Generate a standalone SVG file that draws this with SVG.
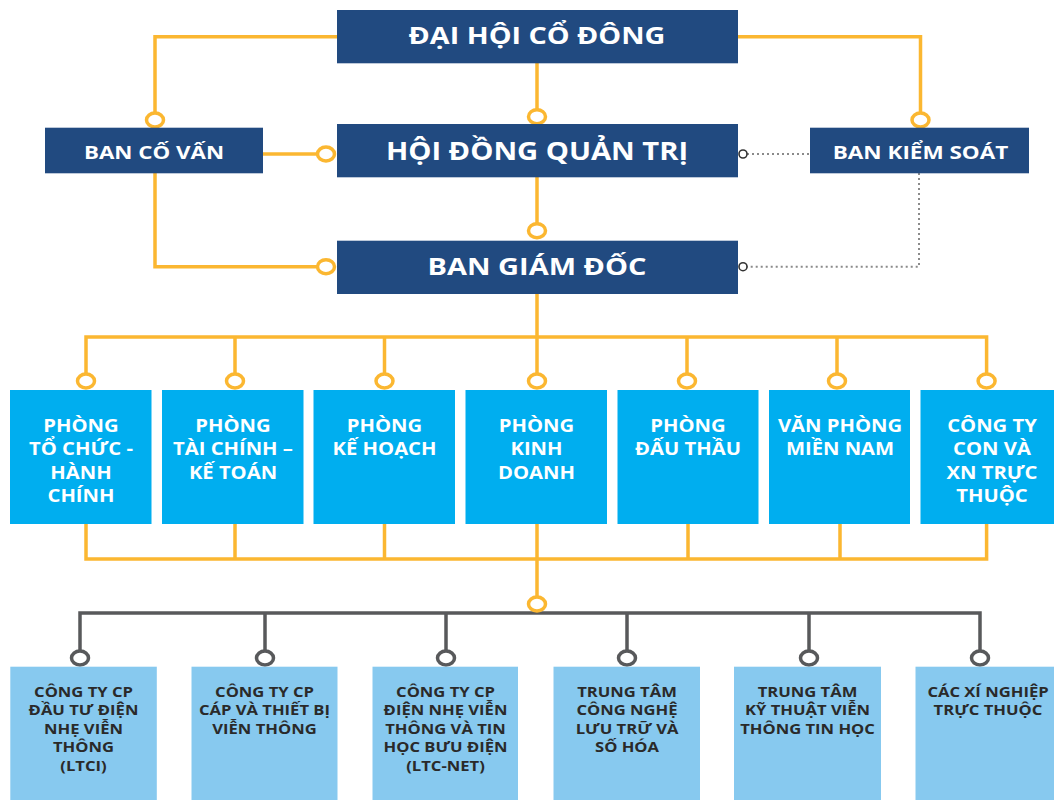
<svg xmlns="http://www.w3.org/2000/svg" width="1054" height="800" viewBox="0 0 1054 800">
<style>
.navy{fill:#214A80}
.mid{fill:#00AEEF}
.lite{fill:#87C9EF}
.t{font-family:"Open Sans","Liberation Sans",sans-serif;font-weight:bold;text-anchor:middle;fill:#fff}
.t1{font-size:23px}
.t2{font-size:18px}
.t3{font-size:17px}
.t4{font-size:13.5px;fill:#2a2a2a}
.or{fill:none;stroke:#FBB731;stroke-width:3.5}
.gr{fill:none;stroke:#58595B;stroke-width:3.5}
.dot{fill:none;stroke:#8a8a8a;stroke-width:2;stroke-dasharray:2 3}
.oc{fill:#fff;stroke:#FBB731;stroke-width:3.5}
.gc{fill:#fff;stroke:#58595B;stroke-width:3.5}
.sc{fill:#fff;stroke:#333;stroke-width:1.6}
</style>
<rect width="1054" height="800" fill="#fff"/>
<g id="connectors">
<path class="or" d="M337 36.7H155V113"/>
<path class="or" d="M537 63V110"/>
<path class="or" d="M738 36.7H920.5V113"/>
<path class="or" d="M263 154H318"/>
<path class="or" d="M155 173V266.7H318"/>
<path class="or" d="M537 177V224"/>
<path class="dot" d="M747 154H810"/>
<path class="dot" d="M919 173V266.7H747"/>
<path class="or" d="M537 294V337H86V374M235 337V374M384.5 337V374M537 337V374M687 337V374M837 337V374M537 337H986.6V374"/>
<path class="or" d="M86 524V559H986.6V524M235 524V559M384.5 524V559M537 524V597M688 524V559M840 524V559"/>
<path class="gr" d="M80 651V613H980V651M265 613V651M446 613V651M627 613V651M809 613V651"/>
<ellipse class="oc" cx="155" cy="120" rx="8.5" ry="7"/>
<ellipse class="oc" cx="537" cy="116.7" rx="8.5" ry="7"/>
<ellipse class="oc" cx="920.5" cy="120" rx="8.5" ry="7"/>
<ellipse class="oc" cx="326" cy="154" rx="8.5" ry="7"/>
<ellipse class="oc" cx="326" cy="266.7" rx="8.5" ry="7"/>
<ellipse class="oc" cx="537" cy="230.7" rx="8.5" ry="7"/>
<circle class="sc" cx="743" cy="154" r="4"/>
<circle class="sc" cx="743" cy="266.7" r="4"/>
<ellipse class="oc" cx="86" cy="381" rx="8.5" ry="7"/>
<ellipse class="oc" cx="235" cy="381" rx="8.5" ry="7"/>
<ellipse class="oc" cx="384.5" cy="381" rx="8.5" ry="7"/>
<ellipse class="oc" cx="537" cy="381" rx="8.5" ry="7"/>
<ellipse class="oc" cx="687" cy="381" rx="8.5" ry="7"/>
<ellipse class="oc" cx="837" cy="381" rx="8.5" ry="7"/>
<ellipse class="oc" cx="986.6" cy="381" rx="8.5" ry="7"/>
<ellipse class="oc" cx="537" cy="604" rx="8.5" ry="7"/>
<ellipse class="gc" cx="80" cy="658" rx="8.5" ry="7"/>
<ellipse class="gc" cx="265" cy="658" rx="8.5" ry="7"/>
<ellipse class="gc" cx="446" cy="658" rx="8.5" ry="7"/>
<ellipse class="gc" cx="627" cy="658" rx="8.5" ry="7"/>
<ellipse class="gc" cx="809" cy="658" rx="8.5" ry="7"/>
<ellipse class="gc" cx="980" cy="658" rx="8.5" ry="7"/>
</g>
<g id="dhcd"><rect class="navy" x="337" y="10" width="401" height="53.3"/><g transform="translate(537 0) scale(1.25 1)"><text class="t t1" x="0" y="44.3">ĐẠI HỘI CỔ ĐÔNG</text></g></g>
<g id="hdqt"><rect class="navy" x="337" y="124" width="401" height="53.3"/><g transform="translate(537 0) scale(1.2 1)"><text class="t t1" x="0" y="160" style="font-size:24.3px">HỘI ĐỒNG QUẢN TRỊ</text></g></g>
<g id="bgd"><rect class="navy" x="337" y="240.7" width="401" height="53.3"/><g transform="translate(537 0) scale(1.26 1)"><text class="t t1" x="0" y="275">BAN GIÁM ĐỐC</text></g></g>
<g id="bcv"><rect class="navy" x="45" y="127.7" width="218" height="45.6"/><g transform="translate(154 0) scale(1.24 1)"><text class="t t2" x="0" y="159">BAN CỐ VẤN</text></g></g>
<g id="bks"><rect class="navy" x="810" y="127.7" width="219" height="45.6"/><g transform="translate(920.5 0) scale(1.25 1)"><text class="t t2" x="0" y="159">BAN KIỂM SOÁT</text></g></g>
<g id="p1"><rect class="mid" x="10" y="390" width="141.5" height="134"/><g transform="translate(81 0) scale(1.19 1)"><text class="t t3" x="0" y="432"><tspan x="0">PHÒNG</tspan><tspan x="0" dy="23.5">TỔ CHỨC -</tspan><tspan x="0" dy="23.5">HÀNH</tspan><tspan x="0" dy="23.5">CHÍNH</tspan></text></g></g>
<g id="p2"><rect class="mid" x="162" y="390" width="141.5" height="134"/><g transform="translate(233 0) scale(1.19 1)"><text class="t t3" x="0" y="432"><tspan x="0">PHÒNG</tspan><tspan x="0" dy="23.5">TÀI CHÍNH –</tspan><tspan x="0" dy="23.5">KẾ TOÁN</tspan></text></g></g>
<g id="p3"><rect class="mid" x="313.5" y="390" width="141.5" height="134"/><g transform="translate(384.5 0) scale(1.19 1)"><text class="t t3" x="0" y="432"><tspan x="0">PHÒNG</tspan><tspan x="0" dy="23.5">KẾ HOẠCH</tspan></text></g></g>
<g id="p4"><rect class="mid" x="465.5" y="390" width="141.5" height="134"/><g transform="translate(536.5 0) scale(1.19 1)"><text class="t t3" x="0" y="432"><tspan x="0">PHÒNG</tspan><tspan x="0" dy="23.5">KINH</tspan><tspan x="0" dy="23.5">DOANH</tspan></text></g></g>
<g id="p5"><rect class="mid" x="617.5" y="390" width="141" height="134"/><g transform="translate(688 0) scale(1.19 1)"><text class="t t3" x="0" y="432"><tspan x="0">PHÒNG</tspan><tspan x="0" dy="23.5">ĐẤU THẦU</tspan></text></g></g>
<g id="p6"><rect class="mid" x="769" y="390" width="141" height="134"/><g transform="translate(840 0) scale(1.19 1)"><text class="t t3" x="0" y="432"><tspan x="0">VĂN PHÒNG</tspan><tspan x="0" dy="23.5">MIỀN NAM</tspan></text></g></g>
<g id="p7"><rect class="mid" x="920.5" y="390" width="141.5" height="134"/><g transform="translate(992 0) scale(1.19 1)"><text class="t t3" x="0" y="432"><tspan x="0">CÔNG TY</tspan><tspan x="0" dy="23.5">CON VÀ</tspan><tspan x="0" dy="23.5">XN TRỰC</tspan><tspan x="0" dy="23.5">THUỘC</tspan></text></g></g>
<g id="c1"><rect class="lite" x="10.3" y="666.7" width="146.5" height="140"/><g transform="translate(83.5 0) scale(1.23 1)"><text class="t t4" x="0" y="697"><tspan x="0">CÔNG TY CP</tspan><tspan x="0" dy="18.5">ĐẦU TƯ ĐIỆN</tspan><tspan x="0" dy="18.5">NHẸ VIỄN</tspan><tspan x="0" dy="18.5">THÔNG</tspan><tspan x="0" dy="18.5">(LTCI)</tspan></text></g></g>
<g id="c2"><rect class="lite" x="191.5" y="666.7" width="146" height="140"/><g transform="translate(264.5 0) scale(1.23 1)"><text class="t t4" x="0" y="697"><tspan x="0">CÔNG TY CP</tspan><tspan x="0" dy="18.5">CÁP VÀ THIẾT BỊ</tspan><tspan x="0" dy="18.5">VIỄN THÔNG</tspan></text></g></g>
<g id="c3"><rect class="lite" x="372.5" y="666.7" width="145.5" height="140"/><g transform="translate(445.5 0) scale(1.23 1)"><text class="t t4" x="0" y="697"><tspan x="0">CÔNG TY CP</tspan><tspan x="0" dy="18.5">ĐIỆN NHẸ VIỄN</tspan><tspan x="0" dy="18.5">THÔNG VÀ TIN</tspan><tspan x="0" dy="18.5">HỌC BƯU ĐIỆN</tspan><tspan x="0" dy="18.5">(LTC-NET)</tspan></text></g></g>
<g id="c4"><rect class="lite" x="553.5" y="666.7" width="146.5" height="140"/><g transform="translate(627 0) scale(1.23 1)"><text class="t t4" x="0" y="697"><tspan x="0">TRUNG TÂM</tspan><tspan x="0" dy="18.5">CÔNG NGHỆ</tspan><tspan x="0" dy="18.5">LƯU TRỮ VÀ</tspan><tspan x="0" dy="18.5">SỐ HÓA</tspan></text></g></g>
<g id="c5"><rect class="lite" x="734" y="666.7" width="147" height="140"/><g transform="translate(807.5 0) scale(1.23 1)"><text class="t t4" x="0" y="697"><tspan x="0">TRUNG TÂM</tspan><tspan x="0" dy="18.5">KỸ THUẬT VIỄN</tspan><tspan x="0" dy="18.5">THÔNG TIN HỌC</tspan></text></g></g>
<g id="c6"><rect class="lite" x="915.5" y="666.7" width="147" height="140"/><g transform="translate(988 0) scale(1.23 1)"><text class="t t4" x="0" y="697"><tspan x="0">CÁC XÍ NGHIỆP</tspan><tspan x="0" dy="18.5">TRỰC THUỘC</tspan></text></g></g>
</svg>
